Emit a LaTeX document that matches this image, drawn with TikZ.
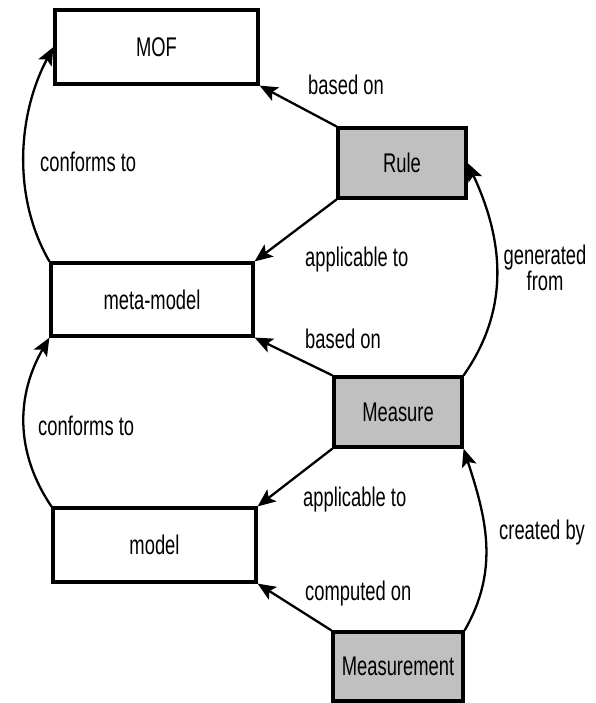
\documentclass[tikz,border=0pt]{standalone}
\usepackage{fontspec}
\setmainfont{Liberation Sans}[FakeStretch=0.68]
\usetikzlibrary{arrows.meta}
\definecolor{boxgray}{HTML}{C0C0C0}
\tikzset{
  box/.style={draw=black, line width=3.2pt, inner sep=0pt, font=\fontsize{27}{30}\selectfont},
  whitebox/.style={box, fill=white, minimum width=203pt, minimum height=74pt},
  graybox/.style={box, fill=boxgray, minimum width=128pt, minimum height=70pt},
  rel/.style={draw=black, line width=2.3pt, -{Stealth[length=18pt,width=15pt,inset=4pt]}},
  lbl/.style={inner sep=0pt, anchor=base west, font=\fontsize{27}{30}\selectfont}
}
\begin{document}
\begin{tikzpicture}[x=1pt,y=1pt]
\useasboundingbox (0,0) rectangle (596,-703);
% class boxes
\node[whitebox] (MOF) at (156.5,-47) {MOF};
\node[whitebox, minimum width=202pt, minimum height=73pt] (meta) at (152,-299.5) {meta-model};
\node[whitebox] (model) at (154.5,-545) {model};
\node[graybox] (rule) at (402,-163) {Rule};
\node[graybox] (measure) at (398,-412) {Measure};
\node[graybox, minimum width=130pt, minimum height=69pt] (measurement) at (398,-666.5) {Measurement};
% straight relations
\draw[rel] (rule.north west) -- (MOF.south east);
\draw[rel] (rule.south west) -- (meta.north east);
\draw[rel] (measure.north west) -- (meta.south east);
\draw[rel] (measure.south west) -- (model.north east);
\draw[rel] (measurement.north west) -- (model.south east);
% curved relations
\draw[rel] (measure.north east) to[out=55,in=-65] (rule.east);
\draw[rel] (measurement.north east) to[out=60,in=-72] (measure.south east);
\draw[rel] (model.north west) to[out=124,in=-120] (meta.south west);
\draw[rel] (meta.north west) to[out=120,in=-118,looseness=0.9] (MOF.west);
% labels
\node[lbl] (l1) at (308,-95) {based on};
\node[lbl] (l2) at (40,-172) {conforms to};
\node[lbl] (l3) at (305,-266) {applicable to};
\node[lbl] (l4) at (305,-348) {based on};
\node[lbl] (l5) at (38,-435) {conforms to};
\node[lbl] (l6) at (303,-506) {applicable to};
\node[lbl] (l7) at (305,-600) {computed on};
\node[lbl] (l8) at (499,-539) {created by};
\node[inner sep=0pt, align=center, font=\fontsize{27}{26}\selectfont, anchor=base] (l9) at (545,-290) {generated\\from};
\end{tikzpicture}
\end{document}
